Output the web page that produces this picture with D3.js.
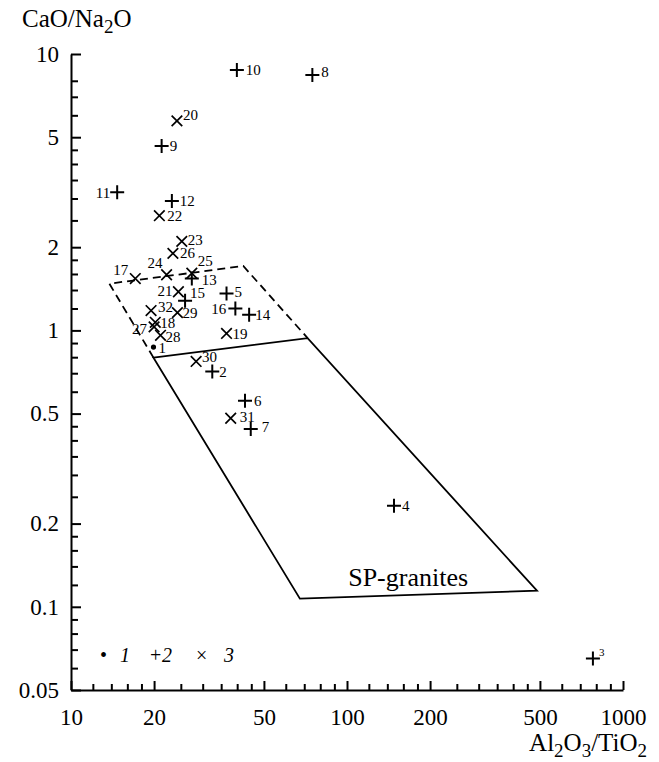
<!DOCTYPE html>
<html>
<head>
<meta charset="utf-8">
<script src="https://cdn.jsdelivr.net/npm/d3@7"></script>
<style>
  body { margin: 0; background: #fff; }
  svg { display: block; }
  svg text { font-family: "Liberation Serif", "Times New Roman", "DejaVu Serif", serif; fill: #000; }
  .axis path, .axis line { stroke: #000; stroke-width: 2px; }
  .axis text { font-size: 23px; }
  .pt-label { font-size: 15px; }
  .title { font-size: 25px; }
  .sub { font-size: 19px; }
</style>
</head>
<body>
<svg id="chart" width="659" height="762"></svg>
<script>
// sample numbers and values
const sampleIds = [1, 2, 3, 4, 5, 6, 7, 8, 9, 10, 11, 12, 13, 14, 15, 16,
  17, 18, 19, 20, 21, 22, 23, 24, 25, 26, 27, 28, 29, 30, 31, 32];
const al2o3TiO2 = [19.9, 32.5, 778, 148, 36.6, 42.7, 44.8, 74.9, 21.3, 39.9, 14.7, 23.2, 27.4, 44.2, 25.9, 39.4,
  17.1, 20.2, 36.6, 24.2, 24.5, 20.9, 25.2, 22.2, 27.4, 23.4, 20.0, 21.1, 24.3, 28.4, 37.9, 19.5];
const caoNa2o = [0.87, 0.71, 0.065, 0.232, 1.36, 0.557, 0.44, 8.39, 4.65, 8.75, 3.16, 2.94, 1.54, 1.14, 1.28, 1.20,
  1.54, 1.07, 0.975, 5.73, 1.38, 2.60, 2.10, 1.59, 1.61, 1.90, 1.03, 0.96, 1.16, 0.772, 0.481, 1.18];
// 1 = dot, 2 = plus, 3 = cross
const groupType = [1, 2, 2, 2, 2, 2, 2, 2, 2, 2, 2, 2, 2, 2, 2, 2,
  3, 3, 3, 3, 3, 3, 3, 3, 3, 3, 3, 3, 3, 3, 3, 3];

// SP-granites field (solid) and the dashed extension above it
const spFieldX = [19.9, 72.0, 488, 67.5];
const spFieldY = [0.797, 0.938, 0.1143, 0.107];
const dashedX = [19.9, 13.77, 42.1, 72.0];
const dashedY = [0.797, 1.476, 1.71, 0.938];

const xMajorTicks = [10, 20, 50, 100, 200, 500, 1000];
const xMinorTicks = [12, 14, 16, 18, 25, 30, 35, 40, 45, 60, 70, 80, 90, 120, 140, 160, 180,
  250, 300, 350, 400, 450, 600, 700, 800, 900];
const yMajorTicks = [0.05, 0.1, 0.2, 0.5, 1, 2, 5, 10];
const yMinorTicks = [0.06, 0.07, 0.08, 0.09, 0.12, 0.14, 0.16, 0.18, 0.25, 0.3, 0.35, 0.4, 0.45,
  0.6, 0.7, 0.8, 0.9, 1.2, 1.4, 1.6, 1.8, 2.5, 3, 3.5, 4, 4.5, 6, 7, 8];

// label placement next to each marker: [dx, dy, anchor, fontSize]
const labelPlace = {
  1: [5, 1, 'start'], 2: [7, 0, 'start'], 3: [6, -6, 'start', 11], 4: [8, 0, 'start'],
  5: [8, -2, 'start'], 6: [9, 0, 'start'], 7: [11, -2, 'start'], 8: [9, -3, 'start'],
  9: [8, 0, 'start'], 10: [9, 0, 'start'], 11: [-7, 0, 'end'], 12: [8, 0, 'start'],
  13: [10, 1, 'start'], 14: [6, 0, 'start'], 15: [5, -8, 'start'], 16: [-9, 0, 'end'],
  17: [-7, -9, 'end'], 18: [5, 0, 'start'], 19: [6, 0, 'start'], 20: [6, -6, 'start'],
  21: [-6, -1, 'end'], 22: [8, 0, 'start'], 23: [6, -2, 'start'], 24: [-4, -12, 'end'],
  25: [6, -12, 'start'], 26: [7, -1, 'start'], 27: [-7, 2, 'end'], 28: [5, 1, 'start'],
  29: [5, 0, 'start'], 30: [6, -5, 'start'], 31: [9, -2, 'start'], 32: [7, -4, 'start']
};

const serif = '"Liberation Serif", "Times New Roman", "DejaVu Serif", serif';
const svg = d3.select('#chart');

const x = d3.scaleLog().domain([10, 1000]).range([71, 623]);
const y = d3.scaleLog().domain([0.05, 10]).range([690, 54]);

// axes: ticks point inward
const fmt = d3.format('~g');
svg.append('g')
  .attr('class', 'axis')
  .attr('transform', 'translate(71,0)')
  .call(d3.axisLeft(y).tickValues(yMajorTicks).tickFormat(fmt)
    .tickSize(-10).tickSizeOuter(0).tickPadding(12))
  .attr('font-family', serif);

svg.append('g')
  .attr('class', 'axis')
  .attr('transform', 'translate(71,0)')
  .call(d3.axisLeft(y).tickValues(yMinorTicks).tickFormat('')
    .tickSize(-7).tickSizeOuter(0))
  .call(g => g.select('.domain').remove());

svg.append('g')
  .attr('class', 'axis')
  .attr('transform', 'translate(0,690)')
  .call(d3.axisBottom(x).tickValues(xMajorTicks).tickFormat(fmt)
    .tickSize(-9).tickSizeOuter(0).tickPadding(19))
  .attr('font-family', serif);

svg.append('g')
  .attr('class', 'axis')
  .attr('transform', 'translate(0,690)')
  .call(d3.axisBottom(x).tickValues(xMinorTicks).tickFormat('')
    .tickSize(-6).tickSizeOuter(0))
  .call(g => g.select('.domain').remove());

// axis titles
const yTitle = svg.append('text').attr('class', 'title').attr('x', 22).attr('y', 27);
yTitle.append('tspan').text('CaO/Na');
yTitle.append('tspan').attr('class', 'sub').attr('dy', 6).text('2');
yTitle.append('tspan').attr('dy', -6).text('O');

const xTitle = svg.append('text').attr('class', 'title')
  .attr('x', 647).attr('y', 751).attr('text-anchor', 'end');
xTitle.append('tspan').text('Al');
xTitle.append('tspan').attr('class', 'sub').attr('dy', 6).text('2');
xTitle.append('tspan').attr('dy', -6).text('O');
xTitle.append('tspan').attr('class', 'sub').attr('dy', 6).text('3');
xTitle.append('tspan').attr('dy', -6).text('/TiO');
xTitle.append('tspan').attr('class', 'sub').attr('dy', 6).text('2');

// fields
const line = d3.line().x(d => x(d[0])).y(d => y(d[1]));
svg.append('path')
  .attr('d', line(d3.zip(spFieldX, spFieldY)) + 'Z')
  .attr('fill', 'none').attr('stroke', '#000').attr('stroke-width', 1.8);
svg.append('path')
  .attr('d', line(d3.zip(dashedX, dashedY)))
  .attr('fill', 'none').attr('stroke', '#000').attr('stroke-width', 1.8)
  .attr('stroke-dasharray', '8,5');

svg.append('text').attr('class', 'title')
  .attr('x', x(101)).attr('y', y(0.119))
  .style('font-size', '26px')
  .text('SP-granites');

// points
const points = sampleIds.map((id, i) => ({
  id, ax: al2o3TiO2[i], cn: caoNa2o[i], type: groupType[i]
}));

const pg = svg.append('g').selectAll('g')
  .data(points)
  .join('g')
  .attr('transform', d => `translate(${x(d.ax)},${y(d.cn)})`);

pg.filter(d => d.type === 1).append('circle')
  .attr('r', 2.6).attr('fill', '#000');
pg.filter(d => d.type === 2).append('path')
  .attr('d', 'M-7,0H7M0,-7V7')
  .attr('stroke', '#000').attr('stroke-width', 2);
pg.filter(d => d.type === 3).append('path')
  .attr('d', 'M-5.3,-5.3L5.3,5.3M-5.3,5.3L5.3,-5.3')
  .attr('stroke', '#000').attr('stroke-width', 1.7);

pg.append('text')
  .attr('class', 'pt-label')
  .attr('x', d => labelPlace[d.id][0])
  .attr('y', d => labelPlace[d.id][1])
  .attr('dy', '0.35em')
  .attr('text-anchor', d => labelPlace[d.id][2])
  .style('font-size', d => (labelPlace[d.id][3] || 15) + 'px')
  .text(d => d.id);

// legend
const legend = svg.append('text').attr('y', 662).style('font-size', '20px');
legend.append('tspan').attr('x', 100).text('•');
legend.append('tspan').attr('x', 120).style('font-style', 'italic').text('1');
legend.append('tspan').attr('x', 150).text('+');
legend.append('tspan').attr('x', 162).style('font-style', 'italic').text('2');
legend.append('tspan').attr('x', 196).text('×');
legend.append('tspan').attr('x', 224).style('font-style', 'italic').text('3');
</script>
</body>
</html>
